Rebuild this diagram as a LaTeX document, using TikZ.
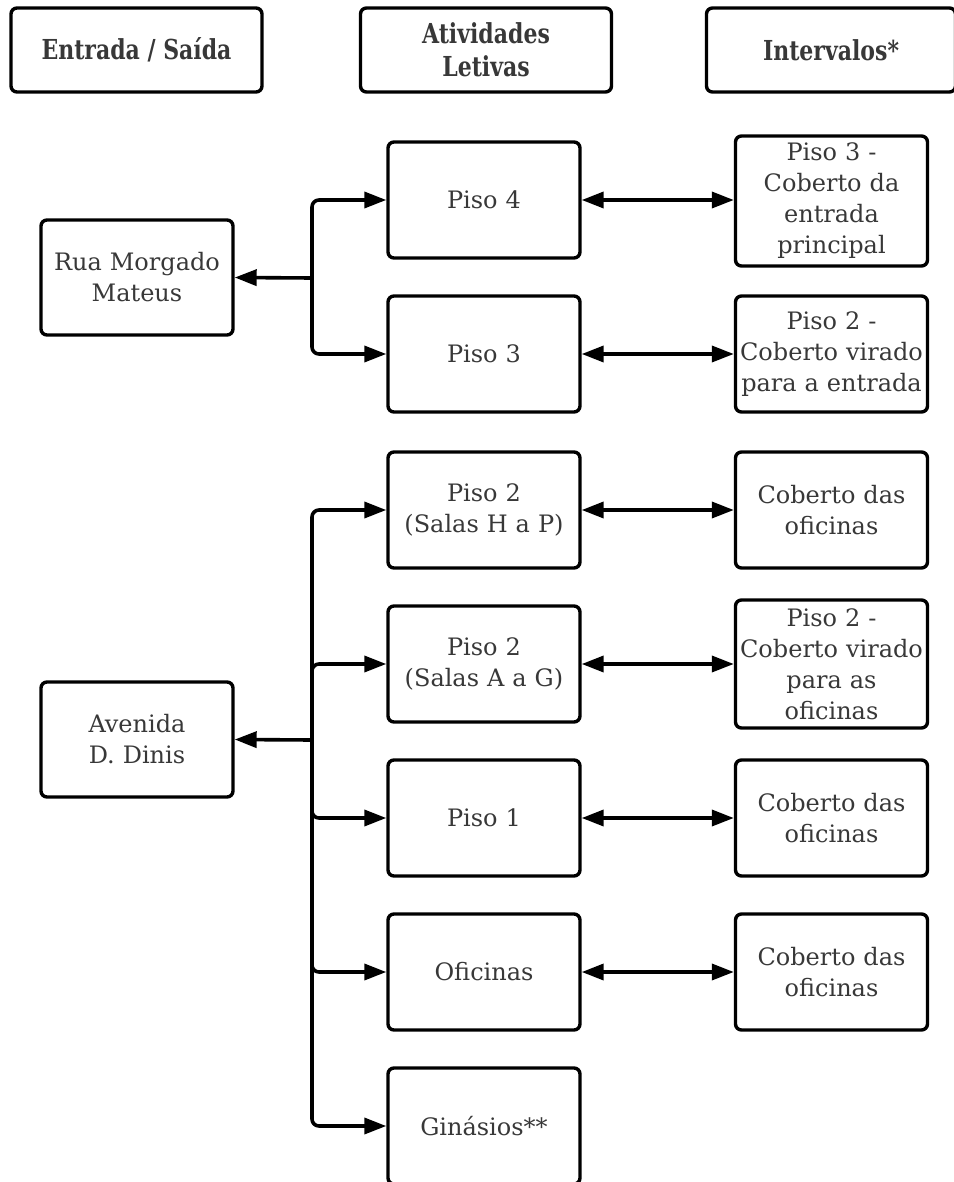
\documentclass[tikz,border=0pt]{standalone}
\usepackage{fontspec}
\setmainfont{DejaVu Serif}
\newfontfamily\hdrfont[FakeStretch=0.8]{DejaVu Serif}
\usetikzlibrary{arrows.meta}
\definecolor{txt}{HTML}{383838}
\tikzset{
  x=1pt, y=-1pt,
  box/.style={draw=black, line width=3.4pt, rounded corners=6pt, align=center,
    text=txt, font=\fontsize{24}{31}\selectfont, inner sep=1pt},
  hbox/.style={box, minimum width=251pt, minimum height=84pt,
    font=\hdrfont\bfseries\fontsize{27.5}{33}\selectfont},
  mid/.style={box, minimum width=192pt, minimum height=116pt, text width=190pt},
  rgt/.style={box, minimum width=191pt, minimum height=116pt, text width=190pt},
  lft/.style={box, minimum width=192pt, minimum height=115pt, text width=190pt},
  conn/.style={line width=3.6pt, rounded corners=7pt, -{Triangle[length=22pt,width=16pt]}},
  dconn/.style={line width=3.6pt, {Triangle[length=22pt,width=16pt]}-{Triangle[length=22pt,width=16pt]}},
}
\begin{document}
\begin{tikzpicture}
\useasboundingbox (0,0) rectangle (953,1182);
% headers
\node[hbox] (h1) at (136.5,50) {Entrada / Saída};
\node[hbox] (h2) at (486,50) {Atividades\\Letivas};
\node[hbox, minimum width=249pt] (h3) at (831,50) {Intervalos*};
% left
\node[lft] (rua) at (137,277.5) {Rua Morgado\\Mateus};
\node[lft] (ave) at (137,739.5) {Avenida\\D. Dinis};
% middle
\node[mid] (m1) at (484,200) {Piso 4};
\node[mid] (m2) at (484,354) {Piso 3};
\node[mid] (m3) at (484,510) {Piso 2\\(Salas H a P)};
\node[mid] (m4) at (484,664) {Piso 2\\(Salas A a G)};
\node[mid] (m5) at (484,818) {Piso 1};
\node[mid] (m6) at (484,972) {Oficinas};
\node[mid] (m7) at (484,1126) {Ginásios**};
% right
\node[rgt, minimum height=130pt] (r1) at (831.5,201) {Piso 3 -\\Coberto da\\entrada\\principal};
\node[rgt] (r2) at (831.5,354) {Piso 2 -\\Coberto virado\\para a entrada};
\node[rgt] (r3) at (831.5,510) {Coberto das\\oficinas};
\node[rgt, minimum height=128pt] (r4) at (831.5,664) {Piso 2 -\\Coberto virado\\para as\\oficinas};
\node[rgt] (r5) at (831.5,818) {Coberto das\\oficinas};
\node[rgt] (r6) at (831.5,972) {Coberto das\\oficinas};
% junctions
\coordinate (j1) at (312,278);
\coordinate (j2) at (312,740);
\draw[conn] (j1) -- (rua.east);
\draw[conn] (j1) |- (m1.west);
\draw[conn] (j1) |- (m2.west);
\draw[conn] (j2) -- (ave.east);
\foreach \m in {m3,m4,m5,m6,m7} { \draw[conn] (j2) |- (\m.west); }
% double arrows
\draw[dconn] (m1.east) -- (m1.east -| r1.west);
\draw[dconn] (m2.east) -- (r2.west);
\draw[dconn] (m3.east) -- (r3.west);
\draw[dconn] (m4.east) -- (r4.west);
\draw[dconn] (m5.east) -- (r5.west);
\draw[dconn] (m6.east) -- (r6.west);
\end{tikzpicture}
\end{document}
